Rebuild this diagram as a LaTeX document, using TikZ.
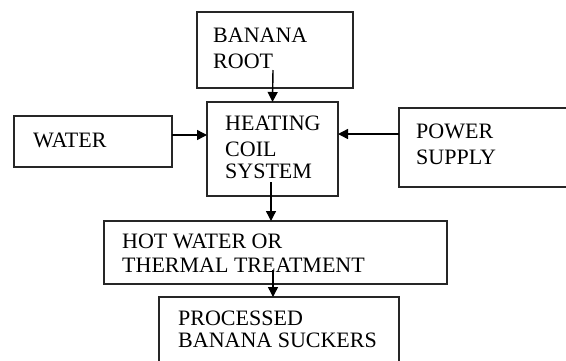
\documentclass[tikz,border=0pt]{standalone}
\usepackage{fontspec}
\setmainfont{Liberation Serif}
\usetikzlibrary{arrows.meta}
\begin{document}
\begin{tikzpicture}[x=1pt,y=-1pt,
  box/.style={draw=black!85,line width=1.4pt},
  lbl/.style={anchor=north west,inner sep=0pt,align=left,font=\fontsize{22}{24.5}\selectfont,text=black},
  arr/.style={draw=black,line width=1.4pt,-{Triangle[length=10pt,width=10pt]}}]
\useasboundingbox (0,0) rectangle (566,360);
\clip (0,0) rectangle (566,360);
% boxes
\draw[box] (197,12) rectangle (353,88);
\draw[box] (207,102) rectangle (338,196);
\draw[box] (14,116) rectangle (172,167);
\draw[box] (399,108) rectangle (575,187);
\draw[box] (104,221) rectangle (447,284);
\draw[box] (159,297) rectangle (399,370);
% named anchors for boxes
\coordinate (heatN) at (272.5,102);
\coordinate (heatW) at (207,135);
\coordinate (heatE) at (338,134);
\coordinate (waterE) at (172,135);
\coordinate (powerW) at (399,134);
\coordinate (hotN) at (271,221);
\coordinate (procN) at (273,297);
\coordinate (rootS) at (273,70);
\coordinate (heatS) at (271,182);
\coordinate (hotS) at (273,270);
% texts
\node[lbl] (troot) at (213,42-14.5) {BANANA\\[1.5pt]ROOT};
\node[lbl] (theat) at (225,130-14.5) {HEATING\\[1.5pt]COIL\\[-2.5pt]SYSTEM};
\node[lbl] (twater) at (33,147-14.5) {WATER};
\node[lbl] (tpower) at (416,138-14.5) {POWER\\[1.5pt]SUPPLY};
\node[lbl] (thot) at (122,248-14.5) {HOT WATER OR\\THERMAL TREATMENT};
\node[lbl] (tproc) at (178,325-14.5) {PROCESSED\\[-2.5pt]BANANA SUCKERS};
% connectors
\draw[arr] (rootS) -- (heatN);
\draw[arr] (waterE) -- (heatW);
\draw[arr] (powerW) -- (heatE);
\draw[arr] (heatS) -- (hotN);
\draw[arr] (hotS) -- (procN);
\end{tikzpicture}
\end{document}
